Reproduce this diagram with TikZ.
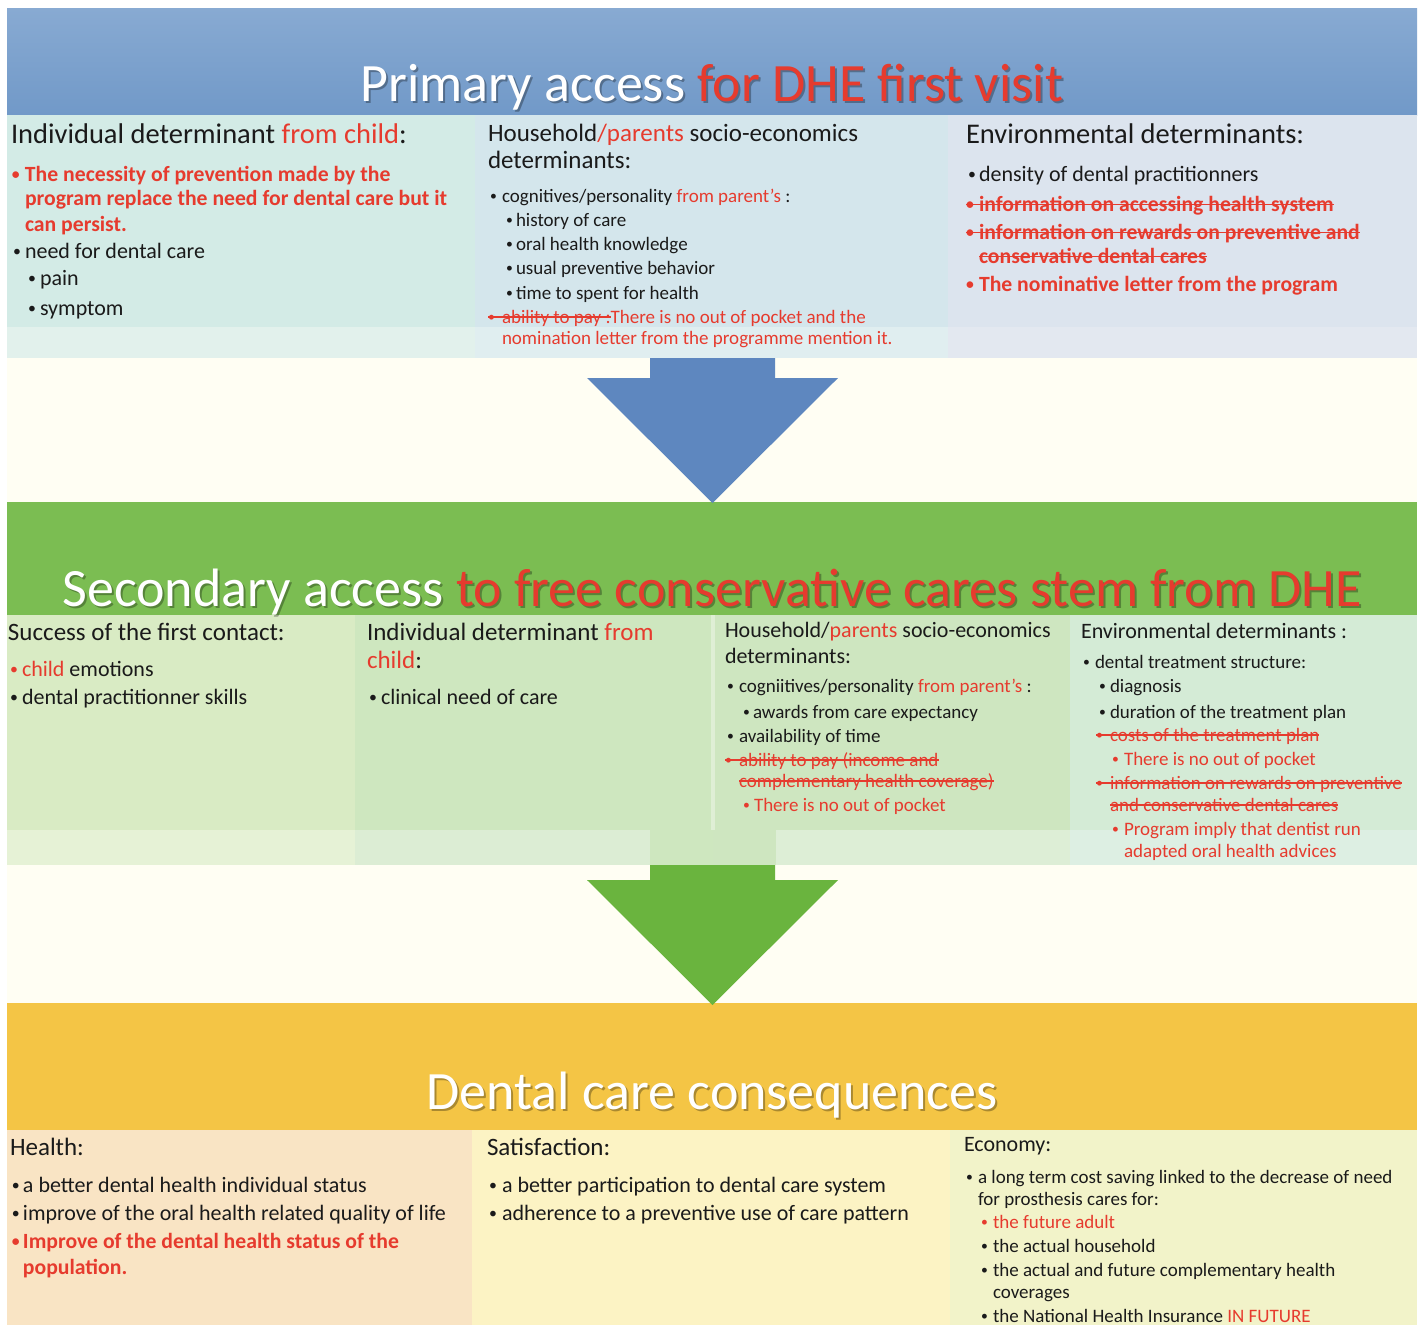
\documentclass[tikz,border=0pt]{standalone}
\usepackage{fontspec}
\setmainfont{Carlito}
\usetikzlibrary{calc}
\definecolor{dhered}{HTML}{E63B2E}
\definecolor{txtblack}{HTML}{1A1A1A}
\definecolor{cream}{HTML}{FFFEF3}
\definecolor{bluetop}{HTML}{88AAD2}
\definecolor{bluebot}{HTML}{7199C8}
\definecolor{greenban}{HTML}{7BBD52}
\definecolor{yellowban}{HTML}{F4C545}
\definecolor{arrowblue}{HTML}{5E87BF}
\definecolor{arrowgreen}{HTML}{6AB43E}
\definecolor{pA}{HTML}{D3EBE6}
\definecolor{pAl}{HTML}{E2F1EC}
\definecolor{pB}{HTML}{D4E6EC}
\definecolor{pBl}{HTML}{E0EEF0}
\definecolor{pC}{HTML}{DCE4EE}
\definecolor{pCl}{HTML}{E3E8F0}
\definecolor{sA}{HTML}{D9EBC4}
\definecolor{sAl}{HTML}{E6F2D6}
\definecolor{sB}{HTML}{CEE7BF}
\definecolor{sBl}{HTML}{DCEDD4}
\definecolor{sC}{HTML}{CEE6C0}
\definecolor{sCl}{HTML}{DDEED6}
\definecolor{sD}{HTML}{D4EBD6}
\definecolor{sDl}{HTML}{DDEFE3}
\definecolor{cA}{HTML}{F9E4C4}
\definecolor{cB}{HTML}{FCF3C4}
\definecolor{cC}{HTML}{F2F3C9}
\newcommand\rd[1]{\textcolor{dhered}{#1}}
\newcommand\bu[1]{\makebox[#1pt][l]{\raisebox{0.09em}{\scalebox{0.72}{•}}}}
\newsavebox\stkbox
\newcommand\stk[1]{\sbox\stkbox{#1}\rlap{\usebox\stkbox}\rule[0.27em]{\wd\stkbox}{1.5pt}}
\tikzset{
  t/.style={anchor=base west, inner sep=0pt, outer sep=0pt, text=txtblack},
  hA/.style={t, font=\fontsize{28.5}{32}\selectfont},
  hB/.style={t, font=\fontsize{25}{30}\selectfont},
  hC/.style={t, font=\fontsize{22}{26}\selectfont},
  bA/.style={t, font=\fontsize{22}{26}\selectfont},
  bB/.style={t, font=\fontsize{19}{23}\selectfont},
  bR/.style={t, text=dhered, font=\bfseries\fontsize{21.7}{25}\selectfont},
  ttl/.style={anchor=base, inner sep=0pt, outer sep=0pt, font=\fontsize{54}{60}\selectfont, text=white},
  shd/.style={ttl, text=black, opacity=0.3},
}
\begin{document}
\begin{tikzpicture}[x=1pt,y=-1pt]
\useasboundingbox (0,0) rectangle (1423,1325);
\fill[white] (0,0) rectangle (1423,1325);
\fill[cream] (7,8) rectangle (1417,1325);
% ---------- primary ----------
\shade[top color=bluetop, bottom color=bluebot] (7,8) rectangle (1417,115);
\fill[pA] (7,115) rectangle (475,327);
\fill[pB] (475,115) rectangle (948,327);
\fill[pC] (948,115) rectangle (1417,327);
\fill[pAl] (7,327) rectangle (475,358);
\fill[pBl] (475,327) rectangle (948,358);
\fill[pCl] (948,327) rectangle (1417,358);
\node[shd] (t1s) at (714,103) {Primary access for DHE first visit};
\node[ttl] (t1) at (712,101) {Primary access \textcolor{dhered}{for DHE first visit}};
% ---------- secondary ----------
\fill[greenban] (7,502) rectangle (1417,615);
\fill[sA] (7,615) rectangle (355,830);
\fill[sB] (355,615) rectangle (713,865);
\fill[sC] (713,615) rectangle (1070,865);
\fill[sD] (1070,615) rectangle (1417,865);
\fill[sAl] (7,830) rectangle (355,865);
\fill[sBl] (355,830) rectangle (650,865);
\fill[sCl] (776,830) rectangle (1070,865);
\fill[sDl] (1070,830) rectangle (1417,865);
\fill[white, opacity=0.35] (711,615) rectangle (715,830);
\node[shd] (t2s) at (714,608) {Secondary access to free conservative cares stem from DHE};
\node[ttl] (t2) at (712,606) {Secondary access \textcolor{dhered}{to free conservative cares stem from DHE}};
% ---------- consequences ----------
\fill[yellowban] (7,1003) rectangle (1417,1130);
\fill[cA] (7,1130) rectangle (472,1325);
\fill[cB] (472,1130) rectangle (950,1325);
\fill[cC] (950,1130) rectangle (1417,1325);
\node[shd] (t3s) at (714,1111) {Dental care consequences};
\node[ttl] (t3) at (712,1109) {Dental care consequences};
% ---------- arrows ----------
\coordinate (a1top) at (712.5,358);
\coordinate (a1tip) at (712.5,503);
\fill[arrowblue] ($(a1top)+(-62.5,0)$) -- ($(a1top)+(62.5,0)$) -- ($(a1top)+(62.5,20)$) -- ($(a1top)+(125.5,20)$) -- (a1tip) -- ($(a1top)+(-125.5,20)$) -- ($(a1top)+(-62.5,20)$) -- cycle;
\coordinate (a2top) at (712.5,865);
\coordinate (a2tip) at (712.5,1005);
\fill[arrowgreen] ($(a2top)+(-62.5,0)$) -- ($(a2top)+(62.5,0)$) -- ($(a2top)+(62.5,15)$) -- ($(a2top)+(125.5,15)$) -- (a2tip) -- ($(a2top)+(-125.5,15)$) -- ($(a2top)+(-62.5,15)$) -- cycle;
% ---------- primary texts ----------
\node[hA] (p1h) at (11,143) {Individual determinant \rd{from child}:};
\node[bR] (p1a) at (12,181) {\bu{13}The necessity of prevention made by the};
\node[bR] (p1b) at (25,205) {program replace the need for dental care but it};
\node[bR] (p1c) at (25,231) {can persist.};
\node[bA] (p1d) at (13,258) {\bu{12}need for dental care};
\node[bA] (p1e) at (28,285) {\bu{12}pain};
\node[bA] (p1f) at (28,315) {\bu{12}symptom};
\node[hB] (p2h) at (488,141) {Household\rd{/parents} socio-economics};
\node[hB] (p2h2) at (488,168) {determinants:};
\node[bB] (p2a) at (490,202) {\bu{12}cognitives/personality \rd{from parent's} :};
\node[bB] (p2b) at (506,226) {\bu{10}history of care};
\node[bB] (p2c) at (506,250) {\bu{10}oral health knowledge};
\node[bB] (p2d) at (506,274) {\bu{10}usual preventive behavior};
\node[bB] (p2e) at (506,299) {\bu{10}time to spent for health};
\node[bB, text=dhered] (p2f) at (488,323) {\stk{\bu{14}ability to pay :}There is no out of pocket and the};
\node[bB, text=dhered] (p2g) at (502,344) {nomination letter from the programme mention it.};
\node[hA] (p3h) at (966,143) {Environmental determinants:};
\node[bA] (p3a) at (968,181) {\bu{11}density of dental practitionners};
\node[bR] (p3b) at (966,211) {\stk{\bu{13}information on accessing health system}};
\node[bR] (p3c) at (966,239) {\stk{\bu{13}information on rewards on preventive and}};
\node[bR] (p3d) at (979,263) {\stk{conservative dental cares}};
\node[bR] (p3e) at (966,291) {\bu{13}The nominative letter from the program};
% ---------- secondary texts ----------
\node[hB] (s1h) at (8,640) {Success of the first contact:};
\node[bA] (s1a) at (10,676) {\rd{\bu{12}child} emotions};
\node[bA] (s1b) at (10,704) {\bu{12}dental practitionner skills};
\node[hB] (s2h) at (367,640) {Individual determinant \rd{from}};
\node[hB] (s2h2) at (367,668) {\rd{child}:};
\node[bA] (s2a) at (369,704) {\bu{12}clinical need of care};
\node[hC] (s3h) at (725,637) {Household/\rd{parents} socio-economics};
\node[hC] (s3h2) at (725,663) {determinants:};
\node[bB] (s3a) at (727,692) {\bu{12}cogniitives/personality \rd{from parent's} :};
\node[bB] (s3b) at (743,718) {\bu{10}awards from care expectancy};
\node[bB] (s3c) at (727,742) {\bu{12}availability of time};
\node[bB, text=dhered] (s3d) at (725,766) {\stk{\bu{14}ability to pay (income and}};
\node[bB, text=dhered] (s3e) at (739,787) {\stk{complementary health coverage)}};
\node[bB, text=dhered] (s3f) at (743,811) {\bu{11}There is no out of pocket};
\node[hC] (s4h) at (1081,638) {Environmental determinants :};
\node[bB] (s4a) at (1083,668) {\bu{12}dental treatment structure:};
\node[bB] (s4b) at (1099,692) {\bu{11}diagnosis};
\node[bB] (s4c) at (1099,718) {\bu{11}duration of the treatment plan};
\node[bB, text=dhered] (s4d) at (1096,741) {\stk{\bu{14}costs of the treatment plan}};
\node[bB, text=dhered] (s4e) at (1112,765) {\bu{12}There is no out of pocket};
\node[bB, text=dhered] (s4f) at (1096,789) {\stk{\bu{14}information on rewards on preventive}};
\node[bB, text=dhered] (s4g) at (1110,811) {\stk{and conservative dental cares}};
\node[bB, text=dhered] (s4i) at (1112,835) {\bu{12}Program imply that dentist run};
\node[bB, text=dhered] (s4j) at (1124,857) {adapted oral health advices};
% ---------- consequence texts ----------
\node[hB] (c1h) at (10,1155) {Health:};
\node[bA] (c1a) at (12,1192) {\bu{11}a better dental health individual status};
\node[bA] (c1b) at (12,1220) {\bu{11}improve of the oral health related quality of life};
\node[bR] (c1c) at (12,1248) {\bu{11}Improve of the dental health status of the};
\node[bR] (c1d) at (23,1274) {population.};
\node[hB] (c2h) at (487,1155) {Satisfaction:};
\node[bA] (c2a) at (489,1192) {\bu{13}a better participation to dental care system};
\node[bA] (c2b) at (489,1220) {\bu{13}adherence to a preventive use of care pattern};
\node[hC] (c3h) at (964,1151) {Economy:};
\node[bB] (c3a) at (966,1183) {\bu{12}a long term cost saving linked to the decrease of need};
\node[bB] (c3b) at (978,1205) {for prosthesis cares for:};
\node[bB, text=dhered] (c3c) at (981,1228) {\bu{12}the future adult};
\node[bB] (c3d) at (981,1252) {\bu{12}the actual household};
\node[bB] (c3e) at (981,1276) {\bu{12}the actual and future complementary health};
\node[bB] (c3f) at (993,1298) {coverages};
\node[bB] (c3g) at (981,1322) {\bu{12}the National Health Insurance \rd{IN FUTURE}};
\end{tikzpicture}
\end{document}
